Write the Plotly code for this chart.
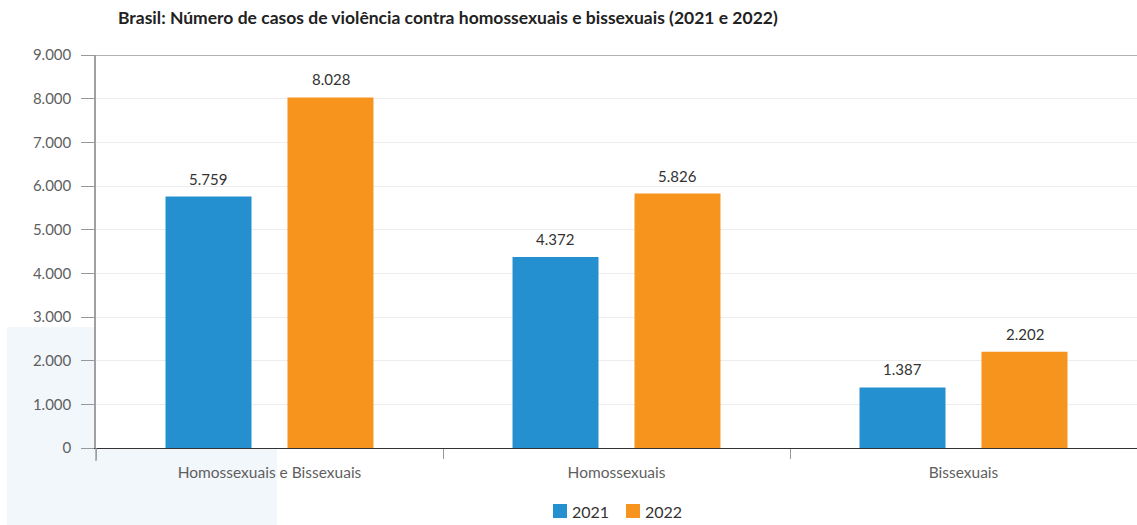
import plotly.graph_objects as go

# Dados
categorias = ["Homossexuais e Bissexuais", "Homossexuais", "Bissexuais"]
casos_2021 = [5759, 4372, 1387]
casos_2022 = [8028, 5826, 2202]
anos = ["2021", "2022"]
y_ticks = [0, 1000, 2000, 3000, 4000, 5000, 6000, 7000, 8000, 9000]

titulo = "Brasil: Número de casos de violência contra homossexuais e bissexuais (2021 e 2022)"

AZUL = "#2590cf"
LARANJA = "#f7941d"
FONTE = "Lato, 'Open Sans', sans-serif"

W, H = 1137, 525
M_L, M_R, M_T, M_B = 96, 0, 55, 77
plot_w = W - M_L - M_R
plot_h = H - M_T - M_B


def px_x(p):
    """Converte pixel horizontal em coordenada 'paper'."""
    return (p - M_L) / plot_w


def px_y(p):
    """Converte pixel vertical em coordenada 'paper'."""
    return (H - M_B - p) / plot_h


fig = go.Figure()
for ano, valores, cor in zip(anos, [casos_2021, casos_2022], [AZUL, LARANJA]):
    fig.add_trace(go.Bar(
        x=categorias, y=valores, name=ano,
        marker=dict(color=cor, line=dict(width=0)),
        hoverinfo="x+y", showlegend=False,
    ))

# Rótulos de valor acima de cada barra
cat_w = plot_w / len(categorias)
desloc = cat_w * 0.176
for valores, sx in [(casos_2021, -desloc), (casos_2022, desloc)]:
    for cat, v in zip(categorias, valores):
        fig.add_annotation(
            x=cat, y=v, xref="x", yref="y", text=f"{v:,}".replace(",", "."),
            showarrow=False, xshift=sx, yshift=18, yanchor="middle",
            font=dict(family=FONTE, size=15, color="#333333"),
        )

# Faixa decorativa azul-clara no canto inferior esquerdo
fig.add_shape(type="rect", xref="paper", yref="paper", layer="below",
              x0=px_x(7), x1=px_x(277), y0=px_y(530), y1=px_y(327),
              fillcolor="#f2f7fb", line=dict(width=0))
fig.add_shape(type="rect", xref="paper", yref="paper", layer="below",
              x0=0, x1=1, y0=0, y1=1, fillcolor="white", line=dict(width=0))
# Linha superior em 9.000 (estende-se até o traço do eixo)
fig.add_shape(type="line", xref="paper", yref="y", x0=px_x(82), x1=1, y0=9000, y1=9000,
              line=dict(color="#9a9a9a", width=1.5))
# Prolongamento do eixo y abaixo do zero
fig.add_shape(type="line", xref="paper", yref="paper", x0=0, x1=0, y0=0, y1=px_y(461),
              line=dict(color="#a0a0a0", width=1.5))

# Legenda desenhada manualmente
legenda = [(anos[0], AZUL, 553), (anos[1], LARANJA, 626)]
for rotulo, cor, x_px in legenda:
    fig.add_shape(type="rect", xref="paper", yref="paper",
                  x0=px_x(x_px), x1=px_x(x_px + 14), y0=px_y(518), y1=px_y(504),
                  fillcolor=cor, line=dict(width=0))
    fig.add_annotation(x=px_x(x_px + 17), y=px_y(511), xref="paper", yref="paper",
                       text=rotulo, showarrow=False, xanchor="left", yanchor="middle",
                       font=dict(family=FONTE, size=16, color="#333333"))

fig.update_layout(
    width=W, height=H,
    margin=dict(l=M_L, r=M_R, t=M_T, b=M_B),
    paper_bgcolor="white", plot_bgcolor="rgba(0,0,0,0)",
    separators=",.",
    barmode="group", bargap=0.297, bargroupgap=0.295,
    title=dict(text=f"<b>{titulo}</b>", xref="container", yref="container",
               x=118 / W, y=1 - 18 / H, xanchor="left", yanchor="middle",
               font=dict(family=FONTE, size=17.5, color="#222222")),
    showlegend=False,
)

fig.update_xaxes(
    range=[-0.5, 2.5], tickson="boundaries", ticks="outside", ticklen=10,
    tickcolor="#999999", showline=True, linecolor="#333333", linewidth=1.2,
    showgrid=False, tickfont=dict(family=FONTE, size=15.5, color="#5f5f5f"),
    ticklabelstandoff=10, fixedrange=True,
)
fig.update_yaxes(
    range=[0, 9000], tickvals=y_ticks, tickformat=",.0f",
    ticks="outside", ticklen=13, tickcolor="#999999",
    showline=True, linecolor="#a0a0a0", linewidth=1.5,
    showgrid=True, gridcolor="#ececec", gridwidth=1, zeroline=False,
    tickfont=dict(family=FONTE, size=15, color="#5f5f5f"),
    ticklabelstandoff=7, fixedrange=True,
)

fig.write_html("out.html")
